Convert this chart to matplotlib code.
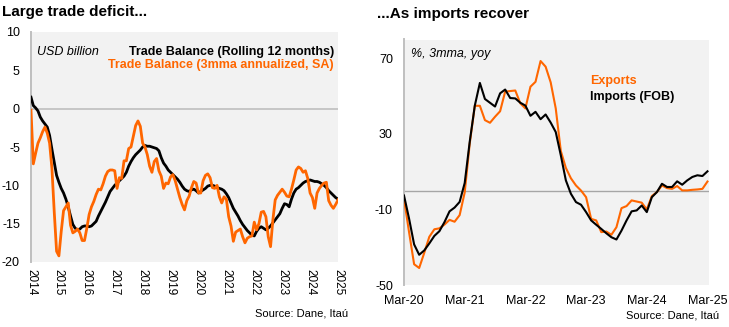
import matplotlib
matplotlib.use("Agg")
import matplotlib.pyplot as plt
from matplotlib import font_manager

FONT = "Liberation Sans"
names = {f.name for f in font_manager.fontManager.ttflist}
NARROW = "Liberation Sans Narrow" if "Liberation Sans Narrow" in names else FONT
plt.rcParams["font.family"] = [FONT, "DejaVu Sans"]

ORANGE = "#FF6600"
BG = "#F2F2F2"
GRID = "#BFBFBF"

# ---------------- Left chart data (monthly, Jan-2014 .. Jan-2025) ----------------
year_labels = [str(y) for y in range(2014, 2026)]

tb_rolling12 = [
    1.5, 0.4, 0.1, -0.3, -1.1, -1.6, -2.0, -2.4, -3.5, -5.3,
    -7.0, -8.7, -9.6, -10.4, -11.0, -11.8, -12.8, -14.0, -15.1, -15.6,
    -15.8, -15.7, -15.4, -15.3, -15.3, -15.4, -15.3, -15.0, -14.7, -14.0,
    -13.4, -12.8, -12.2, -11.5, -10.8, -10.4, -10.0, -9.7, -9.4, -9.1,
    -8.8, -8.3, -7.5, -6.9, -6.4, -6.0, -5.7, -5.4, -5.0, -4.8,
    -4.9, -4.9, -5.0, -5.1, -5.2, -5.5, -6.4, -7.1, -7.5, -8.0,
    -8.3, -8.6, -8.9, -9.2, -9.6, -10.1, -10.5, -10.7, -10.8, -10.6,
    -10.5, -10.7, -11.0, -10.8, -10.6, -10.4, -10.1, -10.0, -10.0, -10.1,
    -10.3, -10.4, -10.5, -10.7, -11.1, -11.6, -12.3, -13.0, -13.5, -14.0,
    -14.6, -15.1, -15.5, -15.9, -16.2, -16.5, -16.6, -16.0, -15.6, -15.4,
    -15.6, -15.8, -15.6, -15.3, -14.9, -14.5, -14.1, -13.7, -13.0, -12.4,
    -12.5, -12.8, -11.8, -11.0, -10.5, -10.3, -10.0, -9.7, -9.5, -9.4,
    -9.3, -9.4, -9.5, -9.5, -9.6, -9.8, -10.0, -10.3, -10.7, -11.0,
    -11.3, -11.6, -11.8,
]

tb_3mma_sa = [
    -0.2, -7.2, -5.8, -4.5, -3.8, -3.0, -2.4, -3.2, -4.5, -7.8,
    -13.5, -18.6, -19.2, -16.0, -13.3, -12.8, -12.3, -15.2, -16.2, -16.0,
    -15.7, -16.2, -17.2, -17.2, -15.6, -13.8, -12.8, -12.1, -11.2, -10.5,
    -10.6, -9.8, -8.8, -8.2, -8.0, -8.0, -8.1, -10.4, -9.0, -9.1,
    -6.8, -6.8, -5.2, -5.0, -3.6, -2.2, -1.6, -2.3, -4.5, -5.0,
    -6.0, -7.5, -8.3, -6.9, -6.5, -8.1, -8.8, -10.4, -9.7, -9.8,
    -8.9, -8.6, -9.4, -10.5, -11.6, -12.5, -13.2, -12.0, -11.4, -10.3,
    -9.5, -9.7, -11.0, -11.0, -9.4, -8.7, -8.5, -9.0, -10.3, -10.4,
    -10.0, -11.5, -12.3, -11.5, -11.8, -14.1, -15.3, -17.3, -16.1, -15.9,
    -15.7, -16.7, -17.5, -16.9, -16.7, -16.6, -14.8, -15.8, -15.0, -13.5,
    -13.4, -14.1, -16.7, -18.0, -14.5, -11.9, -11.3, -10.9, -10.5, -10.9,
    -11.4, -11.5, -10.5, -9.3, -8.0, -7.6, -7.8, -8.3, -8.1, -9.1,
    -11.0, -11.6, -13.0, -11.0, -10.4, -10.0, -9.7, -9.6, -12.0, -12.6,
    -13.0, -12.5, -11.9,
]

left_yticks = [10, 5, 0, -5, -10, -15, -20]

# ---------------- Right chart data (monthly, Mar-20 .. Mar-25) ----------------
month_labels = ["Mar-20", "Mar-21", "Mar-22", "Mar-23", "Mar-24", "Mar-25"]

exports_yoy = [
    -4.3, -22.0, -39.0, -41.0, -33.0, -24.5, -20.5, -20.0, -18.0, -15.5,
    -16.5, -13.0, -1.0, 25.0, 44.9, 44.9, 37.3, 35.9, 39.1, 42.0,
    52.4, 52.7, 53.0, 46.2, 43.5, 55.0, 57.6, 68.6, 65.6, 57.3,
    43.5, 21.0, 12.0, 6.5, 2.7, 0.0, -3.5, -15.0, -15.8, -22.0,
    -21.7, -23.4, -19.4, -9.3, -8.2, -5.2, -5.8, -6.4, -10.0, -2.9,
    -0.8, 2.7, 1.3, 0.9, 2.4, 0.1, 0.1, 0.4, 0.6, 0.9,
    4.8,
]

imports_yoy = [
    -2.6, -14.8, -28.5, -34.0, -31.7, -28.0, -24.0, -21.5, -16.7, -11.0,
    -9.0, -6.0, 4.0, 26.0, 45.0, 57.0, 48.5, 46.5, 44.5, 51.5,
    53.5, 49.0, 48.8, 46.5, 45.0, 39.6, 41.7, 37.8, 40.3, 36.0,
    31.0, 18.7, 5.4, -1.7, -6.1, -7.5, -11.4, -15.8, -18.1, -20.3,
    -22.6, -24.7, -25.9, -21.2, -15.8, -11.0, -10.5, -7.9, -11.4, -3.5,
    -0.8, 3.6, 1.9, 1.9, 4.9, 3.1, 5.4, 7.2, 8.1, 7.7,
    10.2,
]

right_yticks = [70, 30, -10, -50]

# ---------------- Figure ----------------
W, H = 729, 327
fig = plt.figure(figsize=(W / 100, H / 100), dpi=100)
fig.patch.set_facecolor("white")


def px_axes(x0, y0, x1, y1):
    return fig.add_axes([x0 / W, 1 - y1 / H, (x1 - x0) / W, (y1 - y0) / H])


def style(ax):
    ax.set_facecolor(BG)
    for s in ["top", "right", "bottom"]:
        ax.spines[s].set_visible(False)
    ax.spines["left"].set_color(GRID)
    ax.spines["left"].set_linewidth(1.4)
    ax.tick_params(axis="both", length=0, labelsize=9, colors="black")


# Left chart
axL = px_axes(31, 32, 338, 262)
style(axL)
xL = list(range(len(tb_rolling12)))
axL.axhline(0, color=GRID, lw=1.2, zorder=1)
axL.plot(xL, tb_rolling12, color="black", lw=2.0, zorder=3)
axL.plot(list(range(len(tb_3mma_sa))), tb_3mma_sa, color=ORANGE, lw=2.0, zorder=4)
axL.set_xlim(0, len(tb_rolling12) - 1)
axL.set_ylim(-20, 10)
axL.set_yticks(left_yticks)
axL.set_yticklabels([str(v) for v in left_yticks], fontsize=9)
axL.tick_params(axis="y", pad=8)
axL.set_xticks([12 * k for k in range(len(year_labels))])
axL.set_xticklabels(year_labels, rotation=-90, fontsize=8.5, family=[NARROW, FONT])
axL.tick_params(axis="x", pad=5)

axL.text(0.02, 0.913, "USD billion", transform=axL.transAxes, style="italic",
         fontsize=9, ha="left", va="center")
axL.text(0.987, 0.913, "Trade Balance (Rolling 12 months)", transform=axL.transAxes,
         fontsize=9, fontweight="bold", ha="right", va="center", color="black")
axL.text(0.987, 0.855, "Trade Balance (3mma annualized, SA)", transform=axL.transAxes,
         fontsize=9, fontweight="bold", ha="right", va="center", color=ORANGE)

# Right chart
axR = px_axes(404, 39.5, 709, 285)
style(axR)
xR = list(range(len(exports_yoy)))
axR.axhline(0, color="#A6A6A6", lw=1.0, zorder=1)
axR.plot(xR, exports_yoy, color=ORANGE, lw=1.5, zorder=3)
axR.plot(list(range(len(imports_yoy))), imports_yoy, color="black", lw=1.5, zorder=4)
axR.set_xlim(0, 60.3)
axR.set_ylim(-50, 80)
axR.set_yticks(right_yticks)
axR.set_yticklabels([str(v) for v in right_yticks], fontsize=9)
axR.tick_params(axis="y", pad=8)
axR.set_xticks([12 * k for k in range(len(month_labels))])
axR.set_xticklabels(month_labels, fontsize=9)
axR.tick_params(axis="x", pad=7)

axR.text(0.022, 0.941, "%, 3mma, yoy", transform=axR.transAxes, style="italic",
         fontsize=9, ha="left", va="center")
axR.text(0.61, 0.831, "Exports", transform=axR.transAxes, fontsize=9,
         fontweight="bold", color=ORANGE, ha="left", va="center")
axR.text(0.61, 0.765, "Imports (FOB)", transform=axR.transAxes, fontsize=9,
         fontweight="bold", color="black", ha="left", va="center")

# Titles and sources
fig.text(2 / W, 1 - 12 / H, "Large trade deficit...", fontsize=11, fontweight="bold",
         ha="left", va="center")
fig.text(377 / W, 1 - 14 / H, "...As imports recover", fontsize=11, fontweight="bold",
         ha="left", va="center")
fig.text(348 / W, 1 - 314 / H, "Source: Dane, Itaú", fontsize=8, ha="right", va="center")
fig.text(719 / W, 1 - 316 / H, "Source: Dane, Itaú", fontsize=8, ha="right", va="center")

fig.savefig("out.png", dpi=100, facecolor="white")
